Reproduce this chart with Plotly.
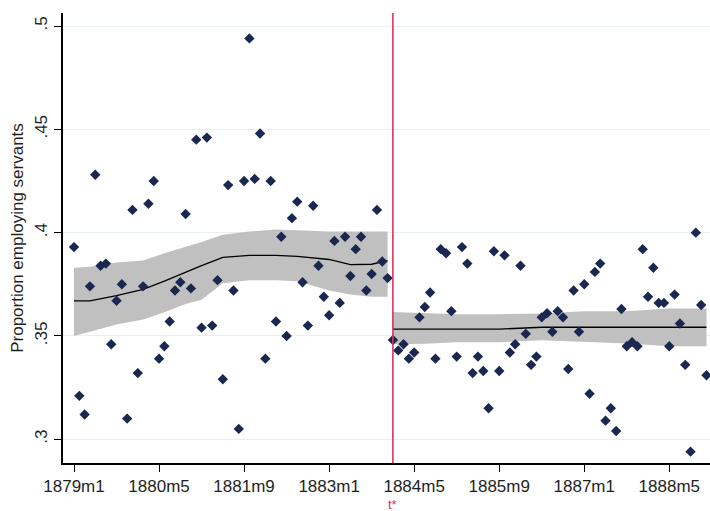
import plotly.graph_objects as go

# Month index: 0 = 1879m1 ... 119 = 1888m12
months = list(range(120))
share = [
    0.393, 0.321, 0.312, 0.374, 0.428, 0.384, 0.385, 0.346, 0.367, 0.375,
    0.310, 0.411, 0.332, 0.374, 0.414, 0.425, 0.339, 0.345, 0.357, 0.372,
    0.376, 0.409, 0.373, 0.445, 0.354, 0.446, 0.355, 0.377, 0.329, 0.423,
    0.372, 0.305, 0.425, 0.494, 0.426, 0.448, 0.339, 0.425, 0.357, 0.398,
    0.350, 0.407, 0.415, 0.376, 0.355, 0.413, 0.384, 0.369, 0.360, 0.396,
    0.366, 0.398, 0.379, 0.392, 0.398, 0.372, 0.380, 0.411, 0.386, 0.378,
    0.348, 0.343, 0.346, 0.339, 0.342, 0.359, 0.364, 0.371, 0.339, 0.392,
    0.390, 0.362, 0.340, 0.393, 0.385, 0.332, 0.340, 0.333, 0.315, 0.391,
    0.333, 0.389, 0.342, 0.346, 0.384, 0.351, 0.336, 0.340, 0.359, 0.361,
    0.352, 0.362, 0.359, 0.334, 0.372, 0.352, 0.375, 0.322, 0.381, 0.385,
    0.309, 0.315, 0.304, 0.363, 0.345, 0.347, 0.345, 0.392, 0.369, 0.383,
    0.366, 0.366, 0.345, 0.370, 0.356, 0.336, 0.294, 0.400, 0.365, 0.331,
]

# Local fit and confidence band before t*
fit_months_pre = [0, 3, 8, 13, 17, 21, 24, 28, 33, 38, 42, 48, 52, 56, 59]
fit_pre = [0.367, 0.367, 0.3695, 0.3725, 0.3765, 0.381, 0.384, 0.388, 0.389,
           0.389, 0.3885, 0.387, 0.3845, 0.3847, 0.3865]
lo_pre = [0.350, 0.352, 0.3555, 0.358, 0.3615, 0.3655, 0.3675, 0.3755, 0.377,
          0.377, 0.3765, 0.372, 0.370, 0.369, 0.369]
hi_pre = [0.383, 0.3835, 0.3855, 0.3865, 0.390, 0.393, 0.3955, 0.399, 0.4005,
          0.4015, 0.401, 0.4005, 0.4005, 0.4005, 0.4005]

# Local fit and confidence band after t*
fit_months_post = [60, 66, 72, 80, 88, 96, 104, 112, 119]
fit_post = [0.3533, 0.3533, 0.3533, 0.3533, 0.3542, 0.3542, 0.3542, 0.3542, 0.3542]
lo_post = [0.346, 0.3462, 0.347, 0.347, 0.3479, 0.347, 0.3463, 0.345, 0.345]
hi_post = [0.3616, 0.3612, 0.3605, 0.3605, 0.3608, 0.362, 0.362, 0.3633, 0.3633]

t_star = 60
x_tickvals = [0, 16, 32, 48, 64, 80, 96, 112]
x_ticktext = ["1879m1", "1880m5", "1881m9", "1883m1", "1884m5", "1885m9", "1887m1", "1888m5"]
y_tickvals = [0.3, 0.35, 0.4, 0.45, 0.5]
y_ticktext = [".3", ".35", ".4", ".45", ".5"]

FONT = "Liberation Sans, Arial, sans-serif"
TXT = "#1f1f1f"
RED = "#d6335f"

fig = go.Figure()

for fm, lo, hi in [(fit_months_pre, lo_pre, hi_pre), (fit_months_post, lo_post, hi_post)]:
    fig.add_trace(go.Scatter(
        x=fm + fm[::-1], y=hi + lo[::-1], fill="toself",
        fillcolor="#c0c0c0", line=dict(width=0), mode="lines",
        hoverinfo="skip", showlegend=False))

for fm, f in [(fit_months_pre, fit_pre), (fit_months_post, fit_post)]:
    fig.add_trace(go.Scatter(
        x=fm, y=f, mode="lines", line=dict(color="black", width=1.3),
        showlegend=False))

fig.add_trace(go.Scatter(
    x=months, y=share, mode="markers",
    marker=dict(symbol="diamond", size=8, color="#1a2850"),
    showlegend=False))

fig.add_shape(type="line", xref="x", yref="paper", x0=t_star, x1=t_star,
              y0=0, y1=1, line=dict(color=RED, width=1.6))

fig.add_annotation(x=t_star, xref="x", y=0, yref="paper",
                   yanchor="middle", xanchor="center", yshift=-41,
                   text="t*", showarrow=False,
                   font=dict(family=FONT, size=13, color=RED))

fig.update_layout(
    width=710, height=511,
    margin=dict(l=63, r=0, t=13, b=48),
    plot_bgcolor="white", paper_bgcolor="white",
    showlegend=False,
    font=dict(family=FONT, color=TXT),
)

fig.update_xaxes(
    range=[-2.07, 119.66],
    tickmode="array", tickvals=x_tickvals, ticktext=x_ticktext,
    ticks="outside", ticklen=7, tickwidth=1.2, tickcolor="black",
    showline=True, linecolor="black", linewidth=1.5,
    showgrid=False, zeroline=False,
    tickfont=dict(family=FONT, size=17, color=TXT),
)

fig.update_yaxes(
    range=[0.2885, 0.5063],
    tickmode="array", tickvals=y_tickvals, ticktext=y_ticktext,
    tickangle=-90,
    ticks="outside", ticklen=7, tickwidth=1.2, tickcolor="black",
    showline=True, linecolor="black", linewidth=1.5,
    showgrid=True, gridcolor="#e8f0f1", gridwidth=1,
    zeroline=False,
    tickfont=dict(family=FONT, size=17, color=TXT),
    title=dict(text="Proportion employing servants",
               font=dict(family=FONT, size=17, color=TXT), standoff=5),
)

fig.write_html("out.html")
